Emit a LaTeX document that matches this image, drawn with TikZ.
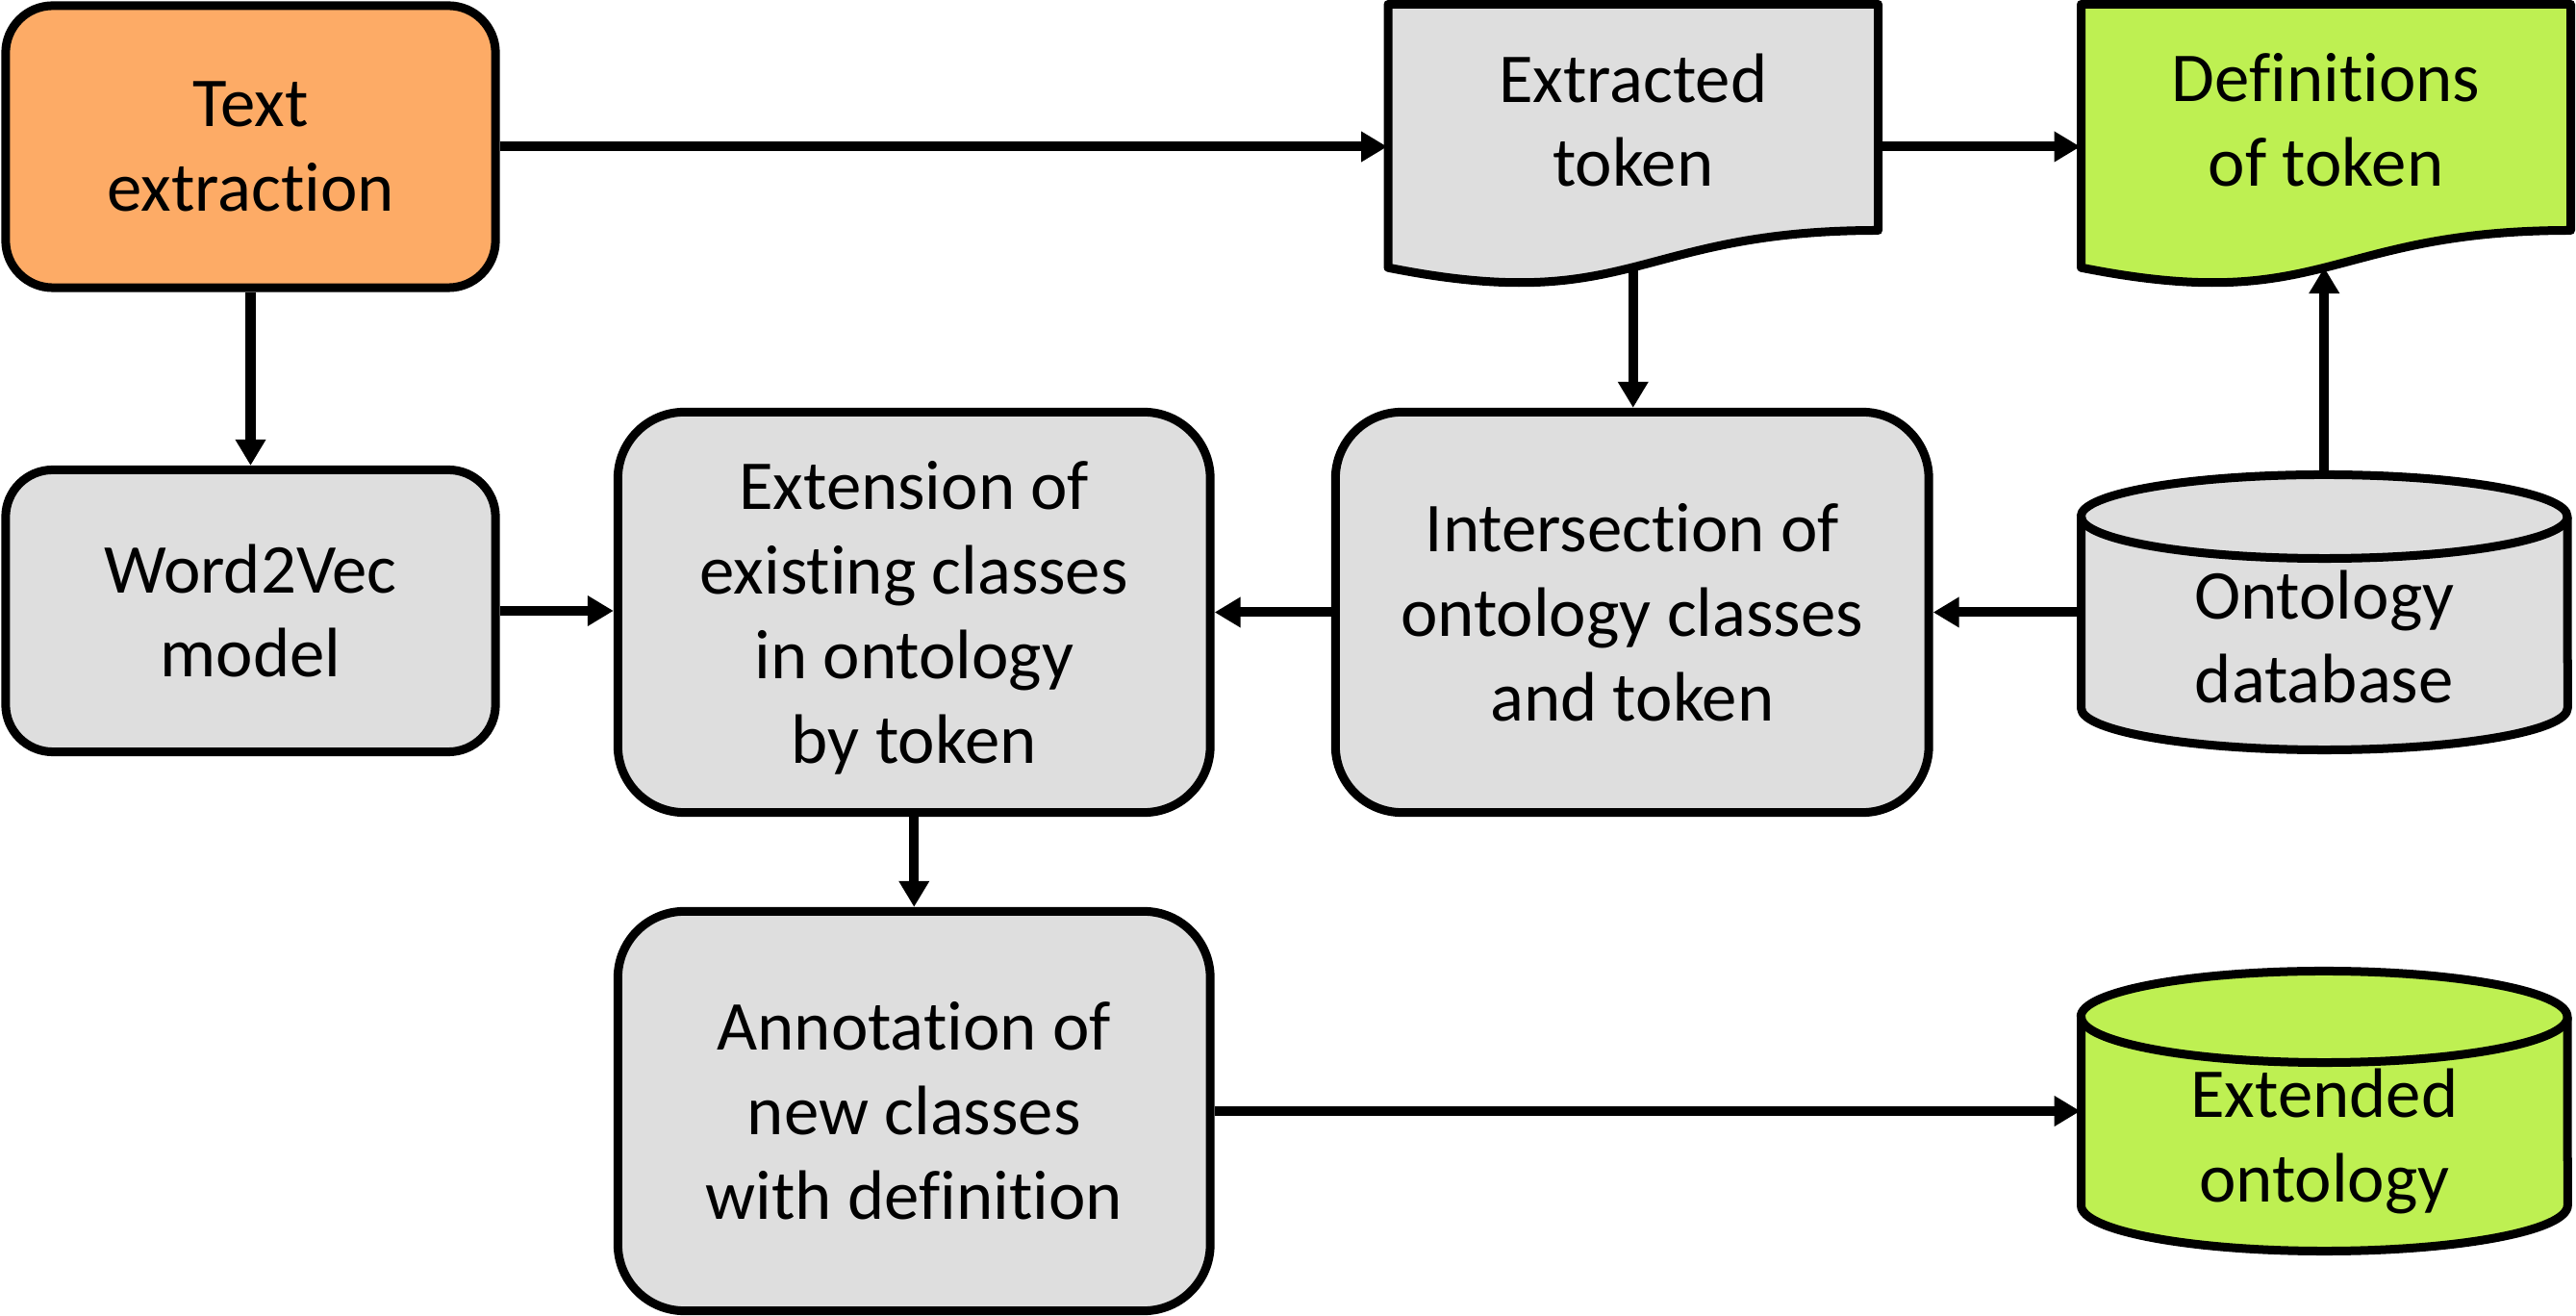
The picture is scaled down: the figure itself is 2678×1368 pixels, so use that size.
\documentclass[tikz,border=0pt]{standalone}
\usepackage{fontspec}
\setmainfont{Carlito}[Ligatures=NoCommon]
\usetikzlibrary{arrows.meta}
\definecolor{orng}{RGB}{253,171,102}
\definecolor{gry}{RGB}{222,222,222}
\definecolor{grn}{RGB}{190,240,82}
\newcommand{\dgfont}{\fontsize{20.7}{25}\selectfont}
\newcommand{\nodesc}[1]{\raisebox{0pt}[\height][0pt]{#1}}
\tikzset{
  fbox/.style={draw=black,line width=0.09cm,rounded corners=#1,inner sep=0pt,align=center,font=\dgfont},
  lbl/.style={inner sep=0pt,align=center,font=\dgfont},
  shp/.style={draw=black,line width=0.09cm,line join=round},
  conn/.style={line width=0.1cm,-{Triangle[length=0.27cm,width=0.30cm]}}
}
\begin{document}
\begin{tikzpicture}[x=0.01cm,y=-0.01cm]
\useasboundingbox (0,0) rectangle (2678,1368);
\fill[white] (0,0) rectangle (2678,1368);

% rounded boxes
\node[fbox=0.49cm,fill=orng,minimum width=5.09cm,minimum height=2.93cm] (text) at (260.5,152.5) {Text\\extraction};
\node[fbox=0.49cm,fill=gry,minimum width=5.09cm,minimum height=2.93cm] (w2v) at (260.5,635) {Word2Vec\\model};
\node[fbox=0.69cm,fill=gry,minimum width=6.155cm,minimum height=4.16cm] (ext) at (950.25,636.5) {Extension of\\existing classes\\in ontology\\\nodesc{by token}};
\node[fbox=0.69cm,fill=gry,minimum width=6.165cm,minimum height=4.16cm] (inter) at (1696.75,636.5) {Intersection of\\ontology classes\\and token};
\node[fbox=0.69cm,fill=gry,minimum width=6.155cm,minimum height=4.15cm] (annot) at (950.25,1155) {Annotation of\\new classes\\with definition};

% document shapes
\draw[shp,fill=gry] (1443,4.5) -- (1952.5,4.5) -- (1952.5,239.5) .. controls (1697.75,239.5) and (1697.75,328.9) .. (1443,278.2) -- cycle;
\node[lbl,minimum width=5.095cm] (tok) at (1697.75,125) {Extracted\\token};
\coordinate (tokb) at (1697.75,278);

\draw[shp,fill=grn] (2163.5,4.5) -- (2672.5,4.5) -- (2672.5,239.5) .. controls (2418,239.5) and (2418,328.9) .. (2163.5,278.2) -- cycle;
\node[lbl,minimum width=5.09cm] (defs) at (2418,125) {Definitions\\of token};
\coordinate (defb) at (2418,278);

% cylinders
\filldraw[shp,fill=gry] (2163.5,537) -- (2163.5,736)
  arc[start angle=180,end angle=360,x radius=2.5275cm,y radius=0.435cm] -- (2669,537)
  arc[start angle=0,end angle=180,x radius=2.5275cm,y radius=0.435cm] -- cycle;
\draw[shp] (2163.5,537) arc[start angle=180,end angle=360,x radius=2.5275cm,y radius=0.435cm];
\node[lbl,minimum width=5.055cm,minimum height=3.37cm] (db) at (2416.25,662) {Ontology\\database};

\filldraw[shp,fill=grn] (2163.5,1057) -- (2163.5,1253)
  arc[start angle=180,end angle=360,x radius=2.5275cm,y radius=0.475cm] -- (2669,1057)
  arc[start angle=0,end angle=180,x radius=2.5275cm,y radius=0.475cm] -- cycle;
\draw[shp] (2163.5,1057) arc[start angle=180,end angle=360,x radius=2.5275cm,y radius=0.475cm];
\node[lbl,minimum width=5.055cm] (extd) at (2416.25,1180) {Extended\\\nodesc{ontology}};

% connectors
\draw[conn] (text.east) -- (text.east -| tok.west);
\draw[conn] (text.east -| tok.east) -- (text.east -| defs.west);
\draw[conn] (text.south) -- (text.south |- w2v.north);
\draw[conn] (w2v.east) -- (w2v.east -| ext.west);
\draw[conn] (inter.west) -- (inter.west -| ext.east);
\draw[conn] (inter.east -| db.west) -- (inter.east);
\draw[conn] (tokb) -- (tokb |- inter.north);
\draw[conn] (db.north) -- (db.north |- defb);
\draw[conn] (ext.south) -- (ext.south |- annot.north);
\draw[conn] (annot.east) -- (annot.east -| extd.west);
\end{tikzpicture}
\end{document}
